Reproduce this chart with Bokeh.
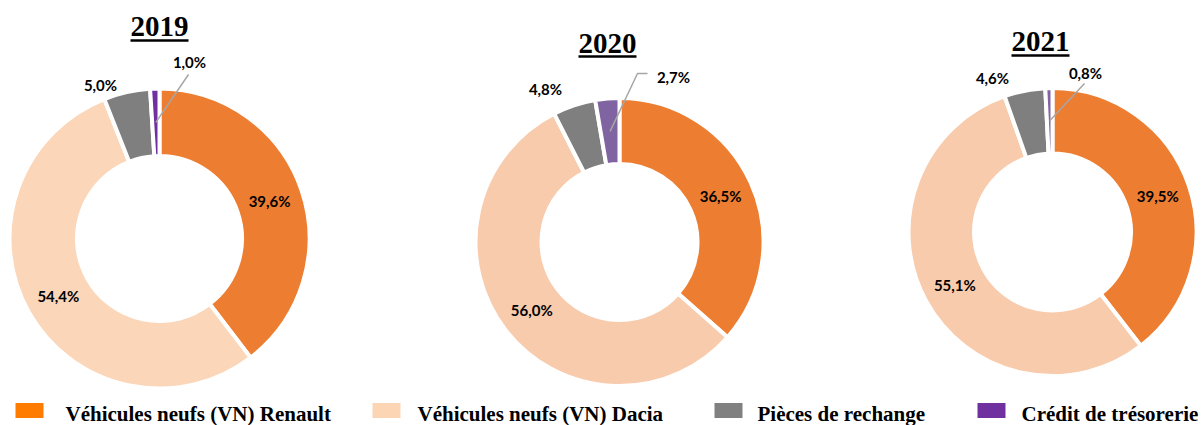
import numpy as np
from bokeh.plotting import figure
from bokeh.models import Range1d, ColumnDataSource
from bokeh.core.properties import value
from bokeh.embed import file_html
from bokeh.resources import INLINE

# ---------------- data ----------------
years = ["2019", "2020", "2021"]
categories = ["Véhicules neufs (VN) Renault", "Véhicules neufs (VN) Dacia",
              "Pièces de rechange", "Crédit de trésorerie"]
share_2019 = [39.6, 54.4, 5.0, 1.0]
share_2020 = [36.5, 56.0, 4.8, 2.7]
share_2021 = [39.5, 55.1, 4.6, 0.8]
shares = {"2019": share_2019, "2020": share_2020, "2021": share_2021}

# ---------------- styles / layout ----------------
legend_colors = ["#FF7C00", "#FCD5B5", "#808080", "#7030A0"]
pie_colors = {
    "2019": ["#ED7D31", "#FBD6B8", "#7F7F7F", "#7030A0"],
    "2020": ["#ED7D31", "#F8CBAD", "#7F7F7F", "#8064A2"],
    "2021": ["#ED7D31", "#F8CBAD", "#7F7F7F", "#8064A2"],
}
# page-pixel layout: centre, outer / inner radius, title centre, underline
layout = {
    "2019": dict(cx=159, cy=238, R=148, r=84.5, tx=159, tm=26, ul=40,
                 outside={2: (100, 84), 3: (189, 61)}, leader=[(188, 74)]),
    "2020": dict(cx=619, cy=241.5, R=142, r=80, tx=607, tm=42.5, ul=56,
                 outside={2: (545, 88), 3: (673, 76)}, leader=[(637, 73), (647, 73)]),
    "2021": dict(cx=1052, cy=231.5, R=142, r=80.5, tx=1040, tm=41, ul=55,
                 outside={2: (992, 77), 3: (1085, 72)}, leader=[(1084, 83)]),
}
legend_sq_x = [15, 372, 714, 977]
legend_tx_x = [65, 417, 757, 1021]

W, H = 1203, 425
p = figure(width=W, height=H, x_range=Range1d(0, W), y_range=Range1d(-H, 0),
           output_backend="svg", toolbar_location=None, min_border=0,
           x_axis_location=None, y_axis_location=None, outline_line_color=None,
           background_fill_color="white", border_fill_color="white")
p.xgrid.grid_line_color = None
p.ygrid.grid_line_color = None

GAP = 4
label_font = value("Lato")
serif = value("Liberation Serif")

for yr in years:
    vals = np.array(shares[yr], dtype=float)
    L = layout[yr]
    cx, cy = L["cx"], -L["cy"]
    total = vals.sum()
    cum_end = np.cumsum(vals) / total
    cum_start = cum_end - vals / total
    start = np.pi / 2 - 2 * np.pi * cum_end
    end = np.pi / 2 - 2 * np.pi * cum_start
    mid = (start + end) / 2
    src = ColumnDataSource(dict(start=start, end=end, color=pie_colors[yr]))
    p.annular_wedge(x=cx, y=cy, inner_radius=L["r"] - GAP / 2, outer_radius=L["R"] + GAP / 2,
                    start_angle="start", end_angle="end", direction="anticlock",
                    fill_color="color", line_color="white", line_width=GAP, source=src)

    rl = (L["R"] + L["r"]) / 2
    lx, ly, lt = [], [], []
    for i, v in enumerate(vals):
        txt = f"{v:.1f}".replace(".", ",") + "%"
        if i in L["outside"]:
            px, py = L["outside"][i]
            lx.append(px); ly.append(-py)
        else:
            lx.append(cx + rl * np.cos(mid[i])); ly.append(cy + rl * np.sin(mid[i]))
        lt.append(txt)
    # leader line for smallest slice
    sx = cx + rl * np.cos(mid[3])
    sy = cy + rl * np.sin(mid[3])
    xs = [sx] + [pt[0] for pt in L["leader"]]
    ys = [sy] + [-pt[1] for pt in L["leader"]]
    p.line(xs, ys, line_color="#A6A6A6", line_width=1.5)
    p.text(x=lx, y=ly, text=lt, text_font=label_font, text_font_style="bold",
           text_font_size="15px", text_align="center", text_baseline="middle",
           text_color="#000000")

    # title with underline
    p.text(x=[L["tx"]], y=[-L["tm"]], text=[yr], text_font=serif, text_font_style="bold",
           text_font_size="29px", text_align="center", text_baseline="middle",
           text_color="#000000")
    p.line([L["tx"] - 29, L["tx"] + 29], [-L["ul"], -L["ul"]], line_color="#000000", line_width=2.5)

# legend
sq_w, sq_h = 28, 15
p.rect(x=[x + sq_w / 2 for x in legend_sq_x], y=[-410] * 4, width=sq_w, height=sq_h,
       fill_color=legend_colors, line_color=None)
p.text(x=legend_tx_x, y=[-413] * 4, text=categories, text_font=serif, text_font_style="bold",
       text_font_size="21px", text_align="left", text_baseline="middle", text_color="#000000")

open("out.html", "w").write(file_html(p, INLINE))
